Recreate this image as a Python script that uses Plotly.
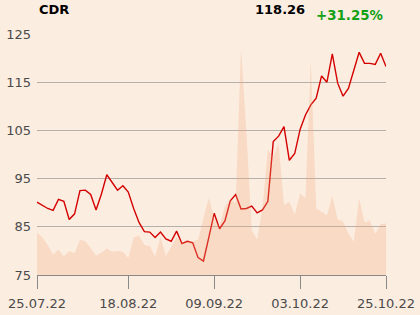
import plotly.graph_objects as go

dates = [
    "25.07.22", "26.07.22", "27.07.22", "28.07.22", "29.07.22",
    "01.08.22", "02.08.22", "03.08.22", "04.08.22", "05.08.22",
    "08.08.22", "09.08.22", "10.08.22", "11.08.22", "12.08.22",
    "16.08.22", "17.08.22", "18.08.22", "19.08.22",
    "22.08.22", "23.08.22", "24.08.22", "25.08.22", "26.08.22",
    "29.08.22", "30.08.22", "31.08.22", "01.09.22", "02.09.22",
    "05.09.22", "06.09.22", "07.09.22", "08.09.22", "09.09.22",
    "12.09.22", "13.09.22", "14.09.22", "15.09.22", "16.09.22",
    "19.09.22", "20.09.22", "21.09.22", "22.09.22", "23.09.22",
    "26.09.22", "27.09.22", "28.09.22", "29.09.22", "30.09.22",
    "03.10.22", "04.10.22", "05.10.22", "06.10.22", "07.10.22",
    "10.10.22", "11.10.22", "12.10.22", "13.10.22", "14.10.22",
    "17.10.22", "18.10.22", "19.10.22", "20.10.22", "21.10.22",
    "24.10.22", "25.10.22",
]

price = [
    90.1, 89.4, 88.8, 88.4, 90.7, 90.3, 86.5, 87.7, 92.5, 92.6,
    91.7, 88.5, 91.8, 95.8, 94.2, 92.6, 93.5, 92.2, 88.8, 85.9,
    84.0, 83.9, 82.8, 83.9, 82.5, 82.0, 84.1, 81.5, 82.0, 81.7,
    78.6, 77.9, 82.8, 87.8, 84.6, 86.2, 90.4, 91.7, 88.7, 88.8,
    89.3, 87.9, 88.5, 90.3, 102.7, 103.8, 105.8, 98.8, 100.2, 105.2,
    108.2, 110.3, 111.7, 116.3, 115.0, 120.9, 114.8, 112.1, 113.7, 117.7,
    121.2, 118.9, 118.9, 118.7, 121.0, 118.26,
]

volume = [
    8.8, 7.8, 6.2, 4.2, 5.3, 3.9, 5.0, 4.5, 7.3, 7.0,
    5.6, 4.0, 4.6, 5.5, 4.8, 5.0, 4.8, 3.5, 7.8, 8.2,
    6.2, 6.0, 3.8, 8.0, 3.9, 6.0, 7.9, 6.6, 7.0, 7.0,
    7.3, 11.8, 16.0, 11.8, 10.0, 14.2, 15.6, 15.0, 47.0, 29.5,
    9.3, 7.3, 14.0, 26.0, 24.5, 27.3, 14.5, 15.2, 12.5, 16.9,
    15.9, 44.5, 13.8, 13.1, 12.4, 16.4, 11.5, 11.1, 8.6, 6.9,
    15.9, 10.9, 11.3, 8.5, 10.6, 10.7,
]

y_ticks = [75, 85, 95, 105, 115, 125]
x_tick_labels = ["25.07.22", "18.08.22", "09.09.22", "03.10.22", "25.10.22"]

symbol = "CDR"
last_price = "118.26"
change = "+31.25%"

BG = "rgb(252,237,225)"

fig = go.Figure()
fig.add_trace(go.Scatter(
    x=dates, y=volume, yaxis="y2", mode="lines",
    line=dict(width=0, color="rgba(0,0,0,0)"),
    fill="tozeroy", fillcolor="rgba(240,165,121,0.27)",
    hoverinfo="skip", showlegend=False,
))
fig.add_trace(go.Scatter(
    x=dates, y=price, mode="lines",
    line=dict(color="rgb(212,0,0)", width=1.4),
    showlegend=False,
))

fig.update_layout(
    width=420, height=315,
    margin=dict(l=37, r=34, t=34, b=40, autoexpand=False),
    paper_bgcolor=BG, plot_bgcolor=BG,
    font=dict(family="DejaVu Sans", size=13, color="#4a4a4a"),
    xaxis=dict(
        type="category", range=[0, len(dates) - 1], automargin=False,
        tickmode="array", tickvals=x_tick_labels, ticktext=x_tick_labels,
        showgrid=False, zeroline=False,
        showline=True, linecolor="#8a8a8a", linewidth=1,
        ticks="outside", ticklen=13, tickcolor="#8a8a8a", tickwidth=1,
        ticklabelstandoff=3,
        tickfont=dict(size=13, color="#4a4a4a"),
    ),
    yaxis=dict(
        range=[75, 125], tickvals=y_ticks, automargin=False,
        showgrid=True, gridcolor="rgb(180,176,172)", gridwidth=1,
        zeroline=False, showline=False, ticks="",
        ticklen=0, ticklabelstandoff=5,
        tickfont=dict(size=13, color="#4a4a4a"),
    ),
    yaxis2=dict(
        overlaying="y", range=[0, 50], visible=False,
    ),
    annotations=[
        dict(text=f"<b>{symbol}</b>", xref="paper", yref="paper",
             x=0.0, y=1.0996, xanchor="left", yanchor="middle",
             showarrow=False, font=dict(size=13, color="#000000")),
        dict(text=f"<b>{last_price}</b>", xref="paper", yref="paper",
             x=0.7736, y=1.1037, xanchor="right", yanchor="middle",
             showarrow=False, font=dict(size=13, color="#000000")),
        dict(text=f"<b>{change}</b>", xref="paper", yref="paper",
             x=0.997, y=1.0747, xanchor="right", yanchor="middle",
             showarrow=False, font=dict(size=13.4, color="rgb(20,160,20)")),
    ],
)

fig.write_html("out.html")
